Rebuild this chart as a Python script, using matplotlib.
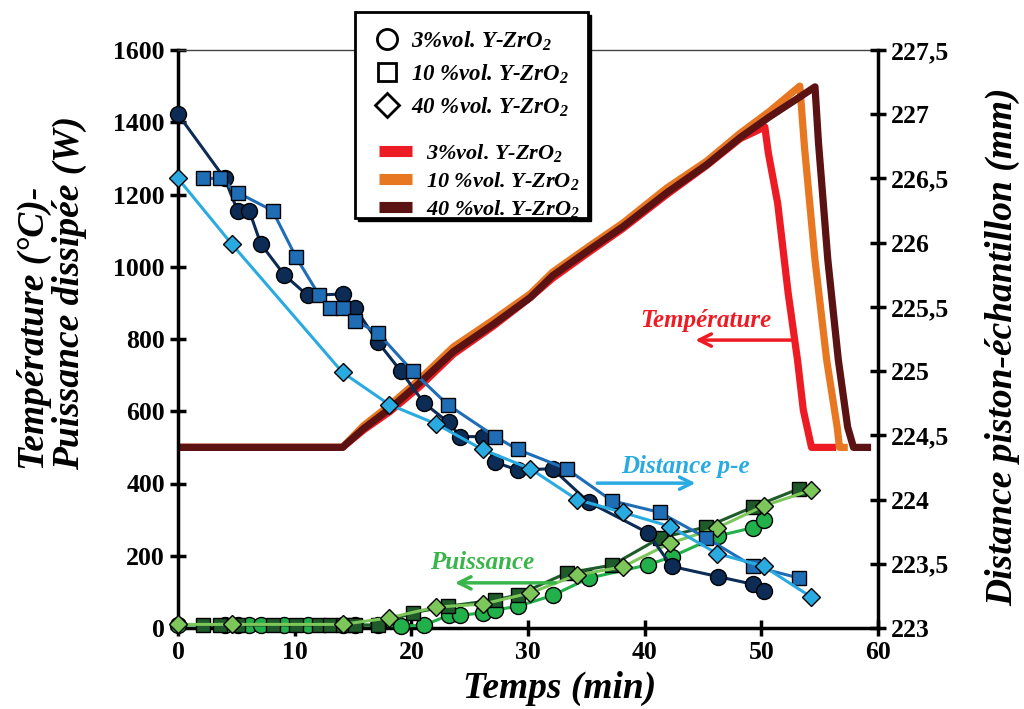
import numpy as np
import matplotlib.pyplot as plt
from matplotlib.lines import Line2D
from matplotlib.patches import Rectangle

plt.rcParams['font.family'] = ['Liberation Serif', 'DejaVu Serif']
plt.rcParams['font.weight'] = 'bold'
plt.rcParams['mathtext.fontset'] = 'custom'
plt.rcParams['mathtext.rm'] = 'Liberation Serif:italic:bold'
plt.rcParams['mathtext.it'] = 'Liberation Serif:italic:bold'
plt.rcParams['mathtext.bf'] = 'Liberation Serif:italic:bold'

# -------------------------------
# DATA
# -------------------------------
labels = ["3%vol. Y-ZrO$_2$", "10 %vol. Y-ZrO$_2$", "40 %vol. Y-ZrO$_2$"]

# temperature (°C), left axis
t_temp_3 = [0, 14.1, 15.9, 18.2, 20.7, 23.6, 27.0, 30.2, 32.1, 35.3, 38.1, 41.9, 45.3, 48.2,
            50.3, 50.6, 51.4, 52.3, 53.1, 53.6, 54.3, 56.1]
temp_3 = [500, 500, 548, 600, 668, 758, 835, 915, 968, 1042, 1105, 1200, 1280, 1355,
          1387, 1315, 1176, 927, 742, 603, 500, 500]
t_temp_10 = [0, 14.1, 15.9, 18.2, 20.7, 23.6, 27.0, 30.2, 32.1, 35.3, 38.1, 41.9, 45.3, 48.2,
             50.7, 53.3, 53.7, 54.6, 55.6, 56.5, 56.7, 57.1]
temp_10 = [500, 500, 560, 618, 688, 778, 852, 925, 985, 1058, 1120, 1218, 1292, 1370,
           1430, 1500, 1331, 1019, 742, 556, 500, 500]
t_temp_40 = [0, 14.1, 15.9, 18.2, 20.7, 23.6, 27.0, 30.2, 32.1, 35.3, 38.1, 41.9, 45.3, 48.2,
             50.7, 53.3, 54.6, 54.9, 55.7, 56.6, 57.4, 57.9, 59.1]
temp_40 = [500, 500, 552, 608, 678, 765, 840, 915, 975, 1048, 1110, 1205, 1282, 1358,
           1415, 1470, 1498, 1343, 1019, 742, 556, 500, 500]

# distance piston-echantillon (mm), right axis / power (W), left axis
t_3 = [0, 4.0, 5.1, 6.1, 7.1, 9.1, 11.1, 14.1, 15.2, 17.1, 19.1, 21.1, 23.2, 24.2,
       26.1, 27.2, 29.1, 32.1, 35.2, 40.3, 42.3, 46.3, 49.3, 50.2]
dist_3 = [227.0, 226.5, 226.25, 226.25, 225.99, 225.75, 225.59, 225.6, 225.49, 225.23,
          225.0, 224.75, 224.6, 224.49, 224.49, 224.29, 224.23, 224.24, 223.98, 223.74,
          223.48, 223.4, 223.34, 223.29]
pow_3 = [8, 8, 8, 8, 8, 8, 8, 8, 8, 8, 5, 8, 35, 35, 42, 50, 60, 90, 138, 175, 197,
         255, 278, 298]

t_10 = [2.1, 3.6, 5.1, 8.1, 10.1, 12.1, 13.0, 14.1, 15.2, 17.1, 20.1, 23.1, 27.2, 29.1,
        33.3, 37.2, 41.3, 45.3, 49.3, 53.2]
dist_10 = [226.5, 226.5, 226.39, 226.25, 225.89, 225.59, 225.49, 225.49, 225.39, 225.3,
           225.0, 224.74, 224.49, 224.39, 224.24, 223.99, 223.9, 223.7, 223.48, 223.39]
pow_10 = [8, 8, 8, 8, 8, 8, 8, 8, 8, 8, 42, 60, 78, 91, 152, 174, 249, 280, 335, 385]

t_40 = [0, 4.6, 14.1, 18.1, 22.1, 26.1, 30.2, 34.2, 38.1, 42.2, 46.2, 50.2, 54.3]
dist_40 = [226.5, 225.99, 224.99, 224.74, 224.59, 224.39, 224.24, 224.0, 223.9, 223.79,
           223.58, 223.48, 223.24]
pow_40 = [10, 10, 10, 28, 58, 66, 97, 147, 169, 235, 277, 338, 382]

temp_colors = ['#ed1c24', '#e87722', '#5a1212']
dist_colors = ['#0c2c55', '#1f6db5', '#29abe2']
pow_colors = ['#22b04b', '#1e5a2a', '#7cc65a']
markers = ['o', 's', 'D']
msizes = [11.5, 10.5, 9]

# -------------------------------
# FIGURE
# -------------------------------
fig = plt.figure(figsize=(10.24, 7.09), dpi=100)
ax = fig.add_axes([178 / 1024, 1 - 628 / 709, 700 / 1024, 578 / 709])
ax2 = ax.twinx()

# temperature
for tt, vv, c in zip([t_temp_3, t_temp_10, t_temp_40], [temp_3, temp_10, temp_40], temp_colors):
    ax.plot(tt, vv, color=c, lw=5.2, solid_joinstyle='round', zorder=2)

# power
for tt, vv, c, m, ms in zip([t_3, t_10, t_40], [pow_3, pow_10, pow_40], pow_colors, markers, msizes):
    ax.plot(tt, vv, color=c, lw=2.2, marker=m, ms=ms, mfc=c, mec='black', mew=1.0,
            zorder=3, clip_on=False)

# distance
for tt, vv, c, m, ms in zip([t_3, t_10, t_40], [dist_3, dist_10, dist_40], dist_colors, markers, msizes):
    ax2.plot(tt, vv, color=c, lw=2.2, marker=m, ms=ms, mfc=c, mec='black', mew=1.0,
             zorder=3, clip_on=False)

# -------------------------------
# AXES
# -------------------------------
ax.set_xlim(0, 60)
ax.set_ylim(0, 1600)
ax2.set_ylim(223, 227.5)
ax.set_xticks(np.arange(0, 61, 10))
ax.set_yticks(np.arange(0, 1601, 200))
r_ticks = np.arange(223, 227.51, 0.5)
ax2.set_yticks(r_ticks)
ax2.set_yticklabels([f"{v:g}".replace('.', ',') for v in r_ticks])

for a in (ax, ax2):
    a.tick_params(direction='inout', length=11, width=2.5, labelsize=18.5, pad=4)
ax.tick_params(top=False, right=False)

for s in ['left', 'bottom']:
    ax.spines[s].set_linewidth(2.5)
ax.spines['right'].set_visible(False)
ax.spines['top'].set_linewidth(1.0)
ax.spines['top'].set_color('#444444')
for s in ['left', 'bottom', 'top']:
    ax2.spines[s].set_visible(False)
ax2.spines['right'].set_linewidth(2.5)

fig.text(52 / 1024, 1 - 293 / 709, "Température (°C)-\nPuissance dissipée (W)",
         rotation=90, ha='center', va='center', multialignment='left',
         fontsize=27, style='italic', weight='bold', linespacing=1.0)
fig.text(1003 / 1024, 1 - 347 / 709, "Distance piston-échantillon (mm)",
         rotation=90, ha='center', va='center', fontsize=27, style='italic', weight='bold')
fig.text(560 / 1024, 1 - 688 / 709, "Temps (min)", ha='center', va='center',
         fontsize=27, style='italic', weight='bold')

# annotations
ax.annotate("", xy=(44.1, 797), xytext=(52.9, 797),
            arrowprops=dict(arrowstyle='->', lw=2.5, color='#ed1c24', mutation_scale=22))
ax.text(45.2, 850, "Température", color='#ed1c24', fontsize=18, style='italic',
        weight='bold', ha='center', va='center')
ax.annotate("", xy=(44.6, 401), xytext=(35.7, 401),
            arrowprops=dict(arrowstyle='->', lw=2.5, color='#29abe2', mutation_scale=22))
ax.text(43.5, 446, "Distance p-e", color='#29abe2', fontsize=18, style='italic',
        weight='bold', ha='center', va='center')
ax.annotate("", xy=(23.5, 125), xytext=(32.6, 125),
            arrowprops=dict(arrowstyle='->', lw=2.5, color='#39b54a', mutation_scale=22))
ax.text(26.1, 180, "Puissance", color='#39b54a', fontsize=18, style='italic',
        weight='bold', ha='center', va='center')

# -------------------------------
# LEGEND
# -------------------------------
x0, y0, w, h = 355 / 1024, 1 - 218 / 709, 233 / 1024, 206 / 709
fig.add_artist(Rectangle((x0 + 3 / 1024, y0 - 3 / 709), w, h, transform=fig.transFigure,
                         facecolor='black', edgecolor='black', lw=1, zorder=4))
fig.add_artist(Rectangle((x0, y0), w, h, transform=fig.transFigure,
                         facecolor='white', edgecolor='black', lw=2, zorder=4))

mk_handles = [Line2D([], [], ls='none', marker=m, ms=s + 3, mfc='white', mec='black', mew=2)
              for m, s in zip(markers, msizes)]
leg1 = fig.legend(mk_handles, labels, loc='upper left', bbox_to_anchor=(362 / 1024, 1 - 18 / 709),
                  frameon=False, prop=dict(size=16.5, style='italic', weight='bold'),
                  handlelength=1.2, handletextpad=0.45, labelspacing=0.42, borderpad=0)
leg1.set_zorder(5)
col_handles = [Line2D([], [], color=c, lw=8, solid_capstyle='butt') for c in temp_colors]
leg2 = fig.legend(col_handles, labels, loc='upper left', bbox_to_anchor=(368 / 1024, 1 - 131 / 709),
                  frameon=False, prop=dict(size=16, style='italic', weight='bold'),
                  handlelength=1.5, handletextpad=0.6, labelspacing=0.26, borderpad=0)
leg2.set_zorder(5)

fig.savefig("out.png", dpi=100)
